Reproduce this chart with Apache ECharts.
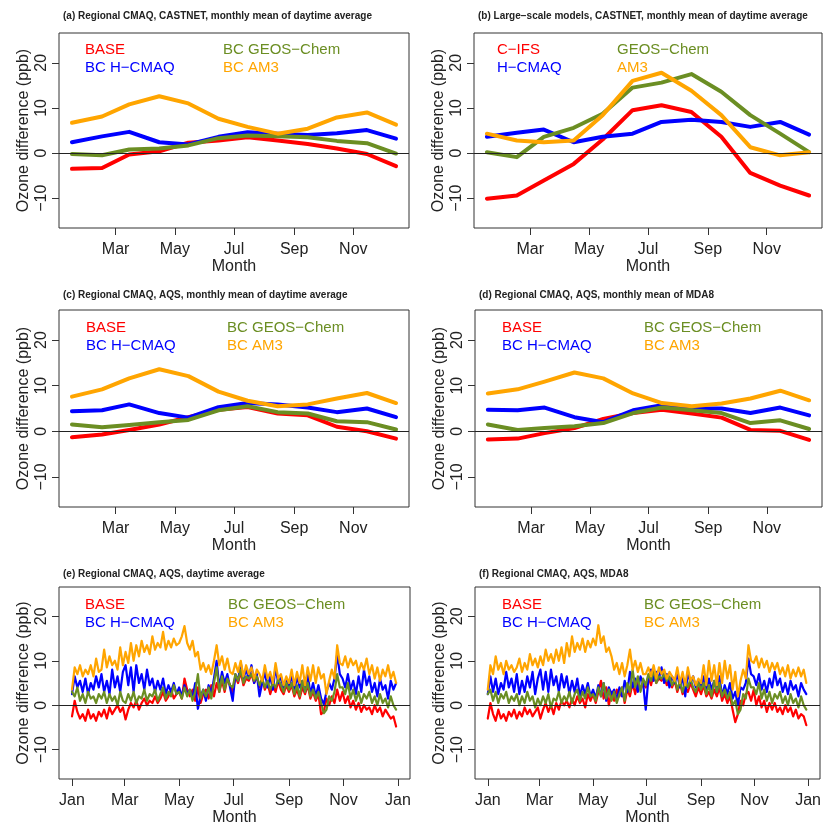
<!DOCTYPE html>
<html>
<head>
<meta charset="utf-8">
<script src="https://cdn.jsdelivr.net/npm/echarts@6/dist/echarts.min.js"></script>
<style>
  html, body { margin: 0; padding: 0; background: #fff; }
  #main { width: 824px; height: 827px; }
</style>
</head>
<body>
<div id="main"></div>
<script>
// day of year for the monthly means (15th of each month)
var monthDays = [15, 46, 74, 105, 135, 166, 196, 227, 258, 288, 319, 349];
// tick positions (1st of month) and their labels
var tickDays = [1, 60, 121, 182, 244, 305, 366];
var tickNames = ['Jan', 'Mar', 'May', 'Jul', 'Sep', 'Nov', 'Jan'];
var yTicks = [-10, 0, 10, 20];

var regionalNames = ['BASE', 'BC H\u2212CMAQ', 'BC GEOS\u2212Chem', 'BC AM3'];
var globalNames = ['C\u2212IFS', 'H\u2212CMAQ', 'GEOS\u2212Chem', 'AM3'];
var colors = ['#FF0000', '#0000FF', '#6B8E23', '#FFA500'];

// (a) regional CMAQ, CASTNET, monthly daytime
var baseA  = [-3.5, -3.3, -0.3, 0.4, 2.3, 2.8, 3.5, 2.8, 2.0, 1.0, -0.2, -2.9];
var hcmaqA = [2.4, 3.7, 4.7, 2.4, 1.9, 3.6, 4.6, 4.3, 4.0, 4.4, 5.1, 3.2];
var geosA  = [-0.2, -0.5, 0.8, 1.0, 1.7, 3.3, 3.9, 3.7, 3.5, 2.7, 2.2, -0.1];
var am3A   = [6.7, 8.1, 10.8, 12.6, 11.0, 7.6, 5.8, 4.3, 5.4, 7.9, 9.0, 6.3];

// (b) large-scale models, CASTNET, monthly daytime
var cifsB  = [-10.1, -9.4, -6.1, -2.4, 3.0, 9.5, 10.6, 9.1, 3.6, -4.4, -7.2, -9.4];
var hcmaqB = [3.6, 4.5, 5.2, 2.4, 3.6, 4.3, 6.9, 7.4, 6.9, 5.8, 6.9, 4.1];
var geosB  = [0.2, -0.9, 3.6, 5.6, 8.7, 14.5, 15.6, 17.5, 13.6, 8.4, 4.3, 0.2];
var am3B   = [4.3, 2.8, 2.4, 2.8, 8.4, 16.0, 17.8, 13.8, 8.4, 1.3, -0.5, 0.2];

// (c) regional CMAQ, AQS, monthly daytime
var baseC  = [-1.3, -0.7, 0.3, 1.5, 3.1, 4.7, 5.3, 3.9, 3.5, 1.0, 0.0, -1.6];
var hcmaqC = [4.4, 4.6, 5.9, 4.0, 3.0, 5.3, 6.2, 5.9, 5.2, 4.2, 5.0, 3.1];
var geosC  = [1.5, 0.9, 1.4, 2.0, 2.5, 4.6, 5.5, 4.2, 3.9, 2.2, 2.0, 0.4];
var am3C   = [7.6, 9.2, 11.6, 13.6, 12.1, 8.7, 6.7, 5.5, 5.9, 7.2, 8.4, 6.2];

// (d) regional CMAQ, AQS, monthly MDA8
var baseD  = [-1.8, -1.6, -0.4, 0.7, 2.7, 4.0, 4.7, 3.9, 3.0, 0.3, 0.1, -1.9];
var hcmaqD = [4.7, 4.6, 5.2, 3.1, 2.0, 4.6, 5.7, 5.0, 5.0, 4.0, 5.2, 3.5];
var geosD  = [1.5, 0.3, 0.7, 1.1, 1.8, 4.0, 5.2, 4.6, 4.0, 1.8, 2.4, 0.5];
var am3D   = [8.3, 9.2, 10.9, 12.9, 11.6, 8.3, 6.2, 5.5, 6.1, 7.2, 8.9, 6.8];

// daily panels, read every 3rd day (day 1, 4, 7 ... 364), one row per month
var dayFirst = 1, dayLast = 364, dayStep = 3;

// (e) regional CMAQ, AQS, daily daytime average
var baseE = [
  -2.5, 1.0, -1.5, -3.0, -2.0, -3.5, -1.0, -3.0, -2.0, -3.5, -1.5,
  -2.5, -1.0, -3.0, -0.5, -2.0, -1.0, 0.0, -1.5, -0.5,
  -3.2, -1.0, 0.5, -0.5, 1.0, -1.0, 0.5, 1.5, 0.0, 1.0,
  0.5, 2.0, 0.5, 1.5, 3.0, 1.0, 2.0, 3.5, 1.5, 2.5,
  3.0, 1.5, 6.0, 3.5, 2.0, 3.5, 1.0, 4.0, 0.5, 2.5,
  3.5, 1.5, 4.5, 2.0, 5.0, 3.0, 5.5, 3.0, 6.0, 4.5,
  3.0, 6.5, 5.0, 7.5, 4.5, 6.0, 5.5, 7.0, 5.0, 6.5, 4.0,
  6.0, 3.5, 5.0, 2.5, 4.5, 3.0, 5.5, 3.5, 2.5, 4.5,
  3.0, 4.5, 2.0, 3.5, 1.5, 4.0, 2.5, 4.5, 1.5, 3.0,
  1.0, 2.5, -2.0, -1.5, 1.5, 0.0, 2.0, 0.5, 3.5, 1.0,
  3.0, 0.5, 2.0, -0.5, 1.0, -1.0, 0.5, -1.5, 0.0, -1.0,
  -0.5, -2.0, 0.0, -1.5, -0.5, -2.5, -1.0, -2.0, -3.0, -2.5, -4.8
];
var hcmaqE = [
  2.5, 6.5, 4.0, 5.5, 3.0, 6.0, 2.5, 5.0, 3.5, 6.5, 4.0,
  7.0, 3.0, 5.5, 2.5, 8.0, 4.0, 6.5, 3.0, 7.5,
  9.0, 4.5, 8.5, 3.0, 9.0, 5.0, 7.0, 3.5, 8.0, 4.5,
  6.0, 3.0, 5.5, 3.5, 6.0, 2.5, 4.5, 3.0, 5.0, 2.5,
  4.0, 2.0, 4.5, 2.5, 3.5, 1.5, 5.0, -0.8, 2.0, 3.5,
  1.0, 4.5, 2.5, 6.0, 10.0, 4.0, 7.5, 5.0, 7.0, 4.0,
  1.0, 7.0, 5.5, 9.5, 6.0, 8.0, 6.0, 9.0, 5.0, 7.0, 2.0,
  5.0, 7.5, 4.0, 6.5, 3.5, 8.5, 5.0, 6.5, 3.5, 6.0,
  4.0, 7.0, 3.0, 6.5, 4.0, 5.5, 3.0, 7.0, 2.5, 5.0,
  2.0, 4.5, 1.5, 0.3, 3.0, 5.0, 3.5, 6.0, 11.5, 7.0,
  6.0, 4.0, 7.0, 3.5, 5.5, 2.5, 6.5, 3.0, 8.0, 4.5,
  6.5, 3.0, 5.0, 2.0, 6.0, 3.5, 4.5, 1.5, 5.5, 3.5, 5.0
];
var geosE = [
  3.0, 2.0, 4.0, 1.0, 2.5, 0.5, 3.0, 1.5, 2.0, 0.5, 2.5,
  1.5, 3.0, 0.5, 2.5, 1.0, 2.0, 0.0, 3.0, 1.0,
  0.5, 2.5, 1.0, 3.0, 0.5, 2.0, 1.5, 3.5, 1.0, 2.5,
  2.0, 3.5, 1.0, 2.5, 4.0, 1.5, 3.0, 2.0, 4.5, 2.5,
  3.0, 1.5, 4.0, 2.0, 3.5, 1.0, 3.0, 7.0, 1.5, 3.5,
  2.0, 4.0, 1.5, 5.0, 8.5, 3.0, 6.5, 3.5, 6.0, 4.5,
  4.0, 7.0, 5.5, 8.0, 5.0, 6.5, 6.0, 7.0, 5.5, 6.5, 4.5,
  6.0, 4.0, 5.5, 3.5, 5.0, 4.0, 6.0, 4.5, 3.0, 5.0,
  3.5, 5.0, 2.5, 4.5, 2.0, 5.5, 3.0, 5.0, 2.0, 3.5,
  1.5, 3.0, 0.5, -1.8, -1.0, 2.0, 1.0, 3.0, 7.0, 4.0,
  4.0, 2.5, 5.0, 1.5, 3.5, 1.0, 3.0, 0.5, 2.5, 1.5,
  3.0, 0.5, 2.0, 0.0, 2.5, 0.5, 1.5, -0.5, 2.0, 0.0, -1.0
];
var am3E = [
  3.5, 8.5, 7.0, 9.0, 6.5, 8.0, 7.0, 9.0, 6.5, 10.5, 7.5,
  8.0, 12.5, 8.5, 11.0, 9.0, 10.0, 8.0, 13.0, 9.0,
  12.0, 9.5, 14.0, 10.0, 13.5, 11.0, 14.5, 12.0, 13.5, 11.5,
  15.5, 12.5, 14.0, 13.0, 16.5, 12.5, 14.5, 13.0, 15.0, 13.5,
  14.0, 15.5, 17.8, 14.0, 12.5, 14.5, 11.0, 12.0, 8.0, 9.5,
  7.5, 9.0, 7.0, 10.0, 13.5, 9.0, 11.0, 8.0, 10.5, 7.5,
  7.0, 9.5, 7.5, 10.0, 6.5, 9.0, 7.0, 8.5, 6.0, 8.0, 7.0,
  5.5, 9.0, 6.0, 7.5, 5.0, 9.5, 6.0, 7.0, 4.5, 6.5,
  5.0, 8.0, 4.5, 7.5, 5.0, 9.0, 4.5, 8.5, 5.5, 9.0,
  5.0, 8.5, 6.0, 7.0, 2.5, 5.5, 8.0, 6.0, 13.5, 9.5,
  9.0, 11.0, 8.5, 10.5, 9.0, 10.0, 7.5, 9.5, 8.0, 10.5,
  7.0, 9.0, 6.0, 8.5, 5.5, 8.0, 6.5, 9.0, 6.0, 7.5, 5.0
];

// (f) regional CMAQ, AQS, daily MDA8
var baseF = [
  -3.0, 0.5, -2.0, -3.5, -1.0, -3.0, -2.0, -3.5, -1.5, -2.5, -1.0,
  -3.0, -1.5, -2.5, -0.5, -2.0, -1.0, -2.5, -1.5, -0.5,
  -3.0, -1.0, 0.5, -1.5, 0.0, -2.0, 0.5, -1.0, 1.0, 0.0,
  1.0, -0.5, 1.5, 0.0, 2.0, 0.5, 1.5, -0.5, 2.5, 1.0,
  2.5, 0.5, 3.0, 5.5, 1.5, 4.0, 0.0, 3.0, 1.0, 3.5,
  2.0, 4.0, 0.5, 3.5, 2.0, 5.0, 2.5, 5.5, 3.5, 5.0,
  4.0, 6.5, 4.5, 7.0, 5.0, 6.0, 5.5, 6.5, 4.5, 6.0, 4.0,
  5.5, 3.0, 5.0, 2.5, 4.0, 3.0, 5.0, 3.5, 2.0, 4.0,
  2.5, 4.5, 2.0, 3.0, 1.5, 3.5, 2.0, 4.0, 1.0, 2.5,
  0.5, 2.0, -1.0, -3.8, -2.0, 1.0, 0.0, 2.5, 3.0, 1.0,
  3.5, 0.0, 2.0, -0.5, 1.0, -1.5, 0.5, -1.0, 0.5, -1.5,
  -0.5, -2.0, 0.0, -1.5, -0.5, -2.5, -1.0, -3.0, -2.0, -2.5, -4.5
];
var hcmaqF = [
  2.5, 6.5, 3.0, 6.0, 2.5, 5.0, 3.5, 7.5, 4.0, 6.0, 3.0,
  7.0, 2.5, 5.5, 3.0, 6.5, 4.0, 7.5, 2.5, 6.0,
  8.0, 3.5, 7.5, 3.0, 8.0, 4.5, 6.5, 3.0, 7.0, 4.0,
  6.5, 2.5, 5.5, 3.0, 6.0, 2.0, 4.5, 2.5, 5.0, 2.0,
  3.5, 1.5, 4.5, 2.0, 5.0, 1.0, 4.0, 2.5, 3.5, 1.0,
  4.0, 2.0, 5.5, 3.0, 7.5, 4.0, 6.0, 3.0, 6.5, 5.0,
  -1.0, 6.0, 8.0, 5.5, 7.5, 6.0, 8.5, 5.0, 7.0, 4.0, 6.5,
  5.0, 7.0, 4.0, 6.5, 2.0, 7.5, 5.0, 6.5, 4.0, 5.5,
  4.0, 6.5, 3.0, 6.0, 3.5, 5.5, 3.0, 6.5, 2.0, 4.5,
  2.5, 5.0, 1.5, 3.0, 0.0, 4.0, 3.5, 5.0, 10.5, 7.0,
  6.5, 4.5, 7.0, 3.5, 5.5, 3.0, 6.0, 4.0, 7.5, 4.5,
  6.0, 3.0, 5.0, 2.5, 5.5, 3.5, 4.5, 2.0, 5.0, 3.5, 2.5
];
var geosF = [
  2.5, 3.5, 1.0, 3.0, 0.5, 2.5, 1.5, 3.0, 0.5, 2.0, 1.0,
  2.5, 0.0, 2.0, 0.5, 3.0, 1.0, 2.0, -0.5, 1.5,
  0.0, 2.0, 0.5, 2.5, -0.5, 1.5, 1.0, 3.0, 0.5, 2.0,
  1.0, 3.0, 0.5, 2.5, 3.5, 1.0, 3.0, 1.5, 4.0, 2.0,
  2.5, 1.0, 4.0, 2.0, 5.0, 1.5, 3.5, 1.0, 3.0, 0.5,
  2.5, 4.0, 1.0, 5.0, 3.0, 8.0, 4.0, 6.5, 3.0, 6.0,
  4.5, 7.0, 5.5, 8.0, 5.0, 6.5, 6.0, 7.0, 5.5, 6.5, 4.5,
  6.0, 3.5, 5.5, 3.0, 5.0, 4.0, 6.0, 4.0, 3.0, 5.0,
  3.5, 5.0, 2.5, 4.5, 2.0, 5.5, 3.0, 5.0, 2.0, 3.5,
  1.5, 3.0, 0.0, 1.0, -2.0, -1.0, 2.5, 1.5, 6.0, 4.0,
  4.0, 2.5, 5.0, 1.5, 3.5, 1.0, 3.0, 0.5, 2.5, 1.5,
  3.0, 0.5, 2.0, 0.0, 2.5, 0.5, 1.5, -0.5, 2.0, 0.0, -1.0
];
var am3F = [
  3.5, 9.0, 7.0, 11.0, 8.0, 9.5, 7.0, 10.0, 8.0, 9.0, 7.5,
  8.5, 10.5, 7.5, 9.5, 8.0, 11.5, 9.0, 10.5, 8.5,
  11.0, 9.0, 12.5, 10.0, 11.5, 9.5, 12.5, 10.0, 13.0, 9.5,
  14.0, 11.0, 15.5, 12.0, 14.0, 12.5, 15.0, 12.0, 14.5, 13.0,
  15.0, 13.5, 18.0, 14.0, 15.5, 12.0, 13.0, 11.0, 8.0, 9.5,
  7.0, 9.5, 6.5, 9.0, 12.5, 8.0, 10.0, 7.5, 9.5, 7.0,
  7.0, 8.5, 6.5, 9.0, 6.0, 8.5, 7.0, 8.0, 6.0, 7.5, 6.5,
  5.5, 8.5, 5.0, 7.5, 4.5, 8.5, 5.5, 6.5, 4.5, 6.0,
  5.0, 9.0, 4.5, 10.0, 5.5, 9.0, 4.5, 9.5, 5.0, 10.0,
  6.0, 9.0, 3.5, 7.5, 2.0, 5.5, 8.0, 6.0, 13.5, 10.0,
  9.5, 11.0, 8.5, 10.5, 8.5, 10.0, 7.5, 9.5, 8.0, 9.5,
  7.0, 8.5, 6.5, 9.0, 6.0, 8.0, 6.5, 8.5, 6.5, 8.0, 5.0
];

var dailyDays = [];
for (var d = dayFirst; d <= dayLast; d += dayStep) dailyDays.push(d);

var FONT = '"Liberation Sans", Arial, Helvetica, sans-serif';

// R style axis extent: data range padded by 4% on each side
function rRange(lo, hi) {
  var pad = (hi - lo) * 0.04;
  return [lo - pad, hi + pad];
}
function minusSign(v) {
  return String(v).replace('-', '\u2212');
}

var panels = [
  { title: '(a) Regional CMAQ, CASTNET, monthly mean of daytime average', titleTop: 6,
    names: regionalNames, x: monthDays, xr: [15, 349], ys: [baseA, hcmaqA, geosA, am3A],
    box: [59, 33, 350, 195], leg: [80, 218, 42], lw: 4 },
  { title: '(b) Large\u2212scale models, CASTNET, monthly mean of daytime average', titleTop: 6,
    names: globalNames, x: monthDays, xr: [15, 349], ys: [cifsB, hcmaqB, geosB, am3B],
    box: [474, 33, 348, 195], leg: [492, 612, 42], lw: 4 },
  { title: '(c) Regional CMAQ, AQS, monthly mean of daytime average', titleTop: 285,
    names: regionalNames, x: monthDays, xr: [15, 349], ys: [baseC, hcmaqC, geosC, am3C],
    box: [59, 310, 350, 197], leg: [81, 222, 320], lw: 4 },
  { title: '(d) Regional CMAQ, AQS, monthly mean of MDA8', titleTop: 285,
    names: regionalNames, x: monthDays, xr: [15, 349], ys: [baseD, hcmaqD, geosD, am3D],
    box: [475, 310, 347, 197], leg: [497, 639, 320], lw: 4 },
  { title: '(e) Regional CMAQ, AQS, daytime average', titleTop: 564,
    names: regionalNames, x: dailyDays, xr: [1, 365], ys: [baseE, hcmaqE, geosE, am3E],
    box: [59, 587, 351, 197], leg: [80, 223, 597], lw: 2.2 },
  { title: '(f) Regional CMAQ, AQS, MDA8', titleTop: 564,
    names: regionalNames, x: dailyDays, xr: [1, 365], ys: [baseF, hcmaqF, geosF, am3F],
    box: [475, 587, 347, 197], leg: [497, 639, 597], lw: 2.2 }
];

var yr = rRange(-15, 25);

var option = {
  animation: false,
  backgroundColor: '#fff',
  textStyle: { fontFamily: FONT },
  title: [], legend: [], grid: [], xAxis: [], yAxis: [], series: []
};

panels.forEach(function (p, i) {
  var b = p.box;
  var xr = rRange(p.xr[0], p.xr[1]);
  var xt = tickDays.filter(function (t) { return t >= xr[0] && t <= xr[1]; });

  option.title.push({
    text: p.title, left: b[0] - 1, top: p.titleTop,
    textStyle: { fontSize: 10, fontWeight: 'bold', color: '#222', fontFamily: FONT }
  });

  option.grid.push({
    left: b[0], top: b[1], width: b[2], height: b[3],
    show: true, borderColor: '#333', borderWidth: 1, backgroundColor: 'transparent'
  });

  option.xAxis.push({
    type: 'value', gridIndex: i, min: xr[0], max: xr[1],
    axisLine: { show: false, onZero: false }, splitLine: { show: false },
    axisTick: { show: true, customValues: xt, length: 7, lineStyle: { color: '#333', width: 1 } },
    axisLabel: {
      customValues: xt, margin: 14, fontSize: 16, color: '#222', fontFamily: FONT,
      formatter: function (v) { return tickNames[tickDays.indexOf(Math.round(v))]; }
    },
    name: 'Month', nameLocation: 'middle', nameGap: 31,
    nameTextStyle: { fontSize: 16, color: '#222', fontFamily: FONT }
  });

  option.yAxis.push({
    type: 'value', gridIndex: i, min: yr[0], max: yr[1],
    axisLine: { show: false, onZero: false }, splitLine: { show: false },
    axisTick: { show: true, customValues: yTicks, length: 7, lineStyle: { color: '#333', width: 1 } },
    axisLabel: {
      customValues: yTicks, rotate: 90, margin: 9, fontSize: 16, color: '#222', fontFamily: FONT,
      formatter: minusSign
    },
    name: 'Ozone difference (ppb)', nameLocation: 'middle', nameRotate: 90, nameGap: 27,
    nameTextStyle: { fontSize: 16, color: '#222', fontFamily: FONT }
  });

  // two legend columns, text only, coloured like the lines
  [[0, 1, p.leg[0]], [2, 3, p.leg[1]]].forEach(function (c) {
    option.legend.push({
      orient: 'vertical', left: c[2], top: p.leg[2], padding: 0,
      itemWidth: 0, itemHeight: 0, itemGap: 3, selectedMode: false, icon: 'none',
      textStyle: { fontSize: 15, lineHeight: 15, fontFamily: FONT },
      data: [
        { name: p.names[c[0]], textStyle: { color: colors[c[0]] } },
        { name: p.names[c[1]], textStyle: { color: colors[c[1]] } }
      ]
    });
  });

  p.ys.forEach(function (vals, k) {
    var s = {
      type: 'line', name: p.names[k], xAxisIndex: i, yAxisIndex: i,
      symbol: 'none', showSymbol: false, color: colors[k],
      lineStyle: { width: p.lw, color: colors[k], cap: 'round', join: 'round' },
      data: p.x.map(function (x, j) { return [x, vals[j]]; })
    };
    if (k === 0) {
      s.markLine = {
        silent: true, symbol: 'none', label: { show: false },
        lineStyle: { color: '#222', width: 1.2, type: 'solid' },
        data: [{ yAxis: 0 }]
      };
    }
    option.series.push(s);
  });
});

var chart = echarts.init(document.getElementById('main'));
chart.setOption(option);
</script>
</body>
</html>
